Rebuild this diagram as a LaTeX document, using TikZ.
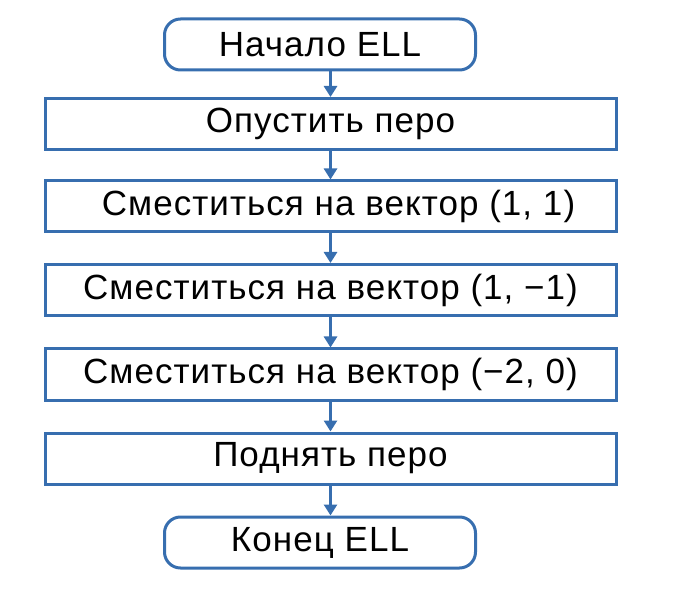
\documentclass[tikz,border=0pt]{standalone}
\usepackage{fontspec}
\setmainfont{Liberation Sans}
\newfontfamily\flowfont[LetterSpace=3]{Liberation Sans}
\usetikzlibrary{arrows.meta}
\definecolor{flowblue}{RGB}{55,110,175}
\tikzset{
  base/.style={draw=flowblue, line width=3pt, inner sep=0pt, font=\flowfont\fontsize{35}{42}\selectfont, text=black},
  stepbox/.style={base, rectangle, minimum width=571pt, minimum height=51pt},
  terminal/.style={base, rectangle, rounded corners=16pt, minimum width=311pt, minimum height=51pt},
  flow/.style={draw=flowblue, line width=3pt, -{Triangle[width=13pt,length=11pt]}}
}
\begin{document}
\begin{tikzpicture}[x=1pt, y=-1pt]
  \useasboundingbox (0,0) rectangle (685,593);
  \node[terminal] (start) at (320,44.5) {Начало ELL};
  \node[stepbox] (s1) at (330.5,124) {Опустить перо};
  \node[stepbox] (s2) at (330.5,206.5) {\hspace*{16pt}Сместиться на вектор (1, 1)};
  \node[stepbox] (s3) at (330.5,290) {Сместиться на вектор (1, −1)};
  \node[stepbox] (s4) at (330.5,374.5) {Сместиться на вектор (−2, 0)};
  \node[stepbox] (s5) at (330.5,458.5) {Поднять перо};
  \node[terminal] (stop) at (320,542.5) {Конец ELL};
  \draw[flow] (start.south -| s1.north) -- (s1.north);
  \draw[flow] (s1) -- (s2);
  \draw[flow] (s2) -- (s3);
  \draw[flow] (s3) -- (s4);
  \draw[flow] (s4) -- (s5);
  \draw[flow] (s5.south) -- (s5.south |- stop.north);
\end{tikzpicture}
\end{document}
